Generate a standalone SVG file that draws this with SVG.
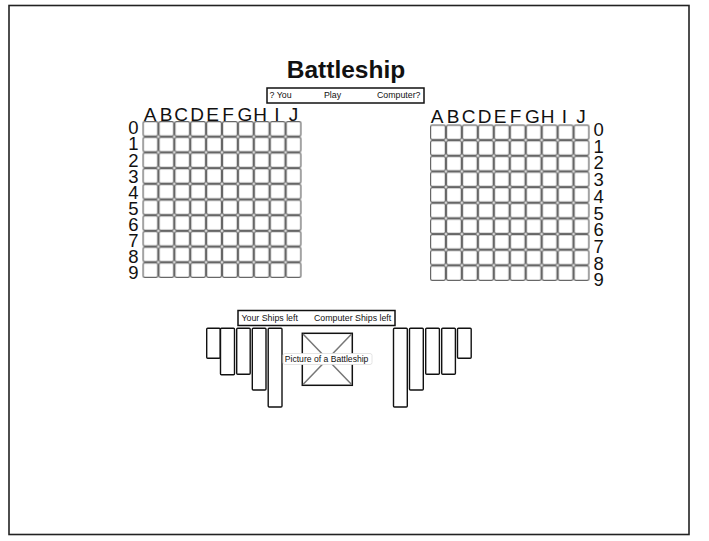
<svg xmlns="http://www.w3.org/2000/svg" width="709" height="541" viewBox="0 0 709 541">
<style>
text{font-family:"Liberation Sans",Arial,sans-serif;fill:#111}
.title{font-size:24.5px;font-weight:bold;text-anchor:middle}
.small{font-size:8.8px}
.col{font-size:19px;text-anchor:middle}
.rowL{font-size:18.5px;text-anchor:end}
.rowR{font-size:18.5px;text-anchor:start}
.box{fill:#fff;stroke:#111;stroke-width:1.5}
.ship{fill:#fff;stroke:#111;stroke-width:1.4}
</style>
<defs>
<pattern id="gridL" patternUnits="userSpaceOnUse" x="142.5" y="121" width="15.9" height="15.7">
<rect x="0.6" y="0.6" width="14.7" height="14.5" rx="1.6" fill="#fff" stroke="#666" stroke-width="1.2"/>
</pattern>
<pattern id="gridR" patternUnits="userSpaceOnUse" x="430" y="124.5" width="15.95" height="15.65">
<rect x="0.6" y="0.6" width="14.75" height="14.45" rx="1.6" fill="#fff" stroke="#666" stroke-width="1.2"/>
</pattern>
</defs>
<rect width="709" height="541" fill="#fff"/>
<g id="frame"><rect x="9" y="5.5" width="680" height="529" fill="none" stroke="#222" stroke-width="1.6"/></g>
<g id="title"><text class="title" x="346" y="78">Battleship</text></g>
<g id="modebar">
<rect class="box" x="267" y="88" width="157" height="15"/>
<text class="small" x="269.5" y="98.3">? You</text>
<text class="small" x="324" y="98.3">Play</text>
<text class="small" x="377" y="98.3">Computer?</text>
</g>
<g id="leftgrid">
<rect x="142.5" y="121" width="159" height="157" fill="url(#gridL)"/>
<g class="col">
<text class="col" x="150" y="120.7">A</text><text class="col" x="166" y="120.7">B</text><text class="col" x="181" y="120.7">C</text><text class="col" x="197" y="120.7">D</text><text class="col" x="212.5" y="120.7">E</text><text class="col" x="228" y="120.7">F</text><text class="col" x="245" y="120.7">G</text><text class="col" x="260" y="120.7">H</text><text class="col" x="277" y="120.7">I</text><text class="col" x="293.5" y="120.7">J</text>
</g>
<text class="rowL" x="138.5" y="134.3">0</text><text class="rowL" x="138.5" y="150.4">1</text><text class="rowL" x="138.5" y="166.5">2</text><text class="rowL" x="138.5" y="182.6">3</text><text class="rowL" x="138.5" y="198.7">4</text><text class="rowL" x="138.5" y="214.8">5</text><text class="rowL" x="138.5" y="230.9">6</text><text class="rowL" x="138.5" y="247">7</text><text class="rowL" x="138.5" y="263.1">8</text><text class="rowL" x="138.5" y="279.2">9</text>
</g>
<g id="rightgrid">
<rect x="430" y="124.5" width="159.5" height="156.5" fill="url(#gridR)"/>
<text class="col" x="437" y="122.7">A</text><text class="col" x="453" y="122.7">B</text><text class="col" x="468.5" y="122.7">C</text><text class="col" x="484.5" y="122.7">D</text><text class="col" x="500" y="122.7">E</text><text class="col" x="515.5" y="122.7">F</text><text class="col" x="532.5" y="122.7">G</text><text class="col" x="547.5" y="122.7">H</text><text class="col" x="564.5" y="122.7">I</text><text class="col" x="581" y="122.7">J</text>
<text class="rowR" x="593.5" y="136">0</text><text class="rowR" x="593.5" y="152.7">1</text><text class="rowR" x="593.5" y="169.4">2</text><text class="rowR" x="593.5" y="186.1">3</text><text class="rowR" x="593.5" y="202.8">4</text><text class="rowR" x="593.5" y="219.5">5</text><text class="rowR" x="593.5" y="236.2">6</text><text class="rowR" x="593.5" y="252.9">7</text><text class="rowR" x="593.5" y="269.6">8</text><text class="rowR" x="593.5" y="286.3">9</text>
</g>
<g id="shipsbar">
<rect class="box" x="238" y="310.5" width="157" height="15"/>
<text class="small" x="241.5" y="321">Your Ships left</text>
<text class="small" x="314" y="321">Computer Ships left</text>
</g>
<g id="yourships">
<rect class="ship" x="206.7" y="328.3" width="13.5" height="30" rx="1"/>
<rect class="ship" x="220.5" y="328.3" width="14" height="46.5" rx="1"/>
<rect class="ship" x="236.7" y="328.3" width="13.5" height="46" rx="1"/>
<rect class="ship" x="252.3" y="328.3" width="13.7" height="61.7" rx="1"/>
<rect class="ship" x="268.2" y="328.3" width="13.8" height="78.7" rx="1"/>
</g>
<g id="computerships">
<rect class="ship" x="393.5" y="328.3" width="13.8" height="78.7" rx="1"/>
<rect class="ship" x="409.5" y="328.3" width="13.8" height="61.7" rx="1"/>
<rect class="ship" x="425.7" y="328.3" width="13.7" height="46" rx="1"/>
<rect class="ship" x="441.7" y="328.3" width="13.7" height="46" rx="1"/>
<rect class="ship" x="457.5" y="328.3" width="13.7" height="30" rx="1"/>
</g>
<g id="picture">
<rect class="box" x="302.3" y="333.3" width="50" height="52"/>
<path d="M303 334 L351.6 384.6 M351.6 334 L303 384.6" stroke="#777" stroke-width="1.5" fill="none"/>
<rect x="283" y="353.5" width="89" height="11" rx="2" fill="#fff" stroke="#ddd" stroke-width="0.8"/>
<text class="small" x="284.8" y="362" style="font-size:8.6px">Picture of a Battleship</text>
</g>
</svg>
